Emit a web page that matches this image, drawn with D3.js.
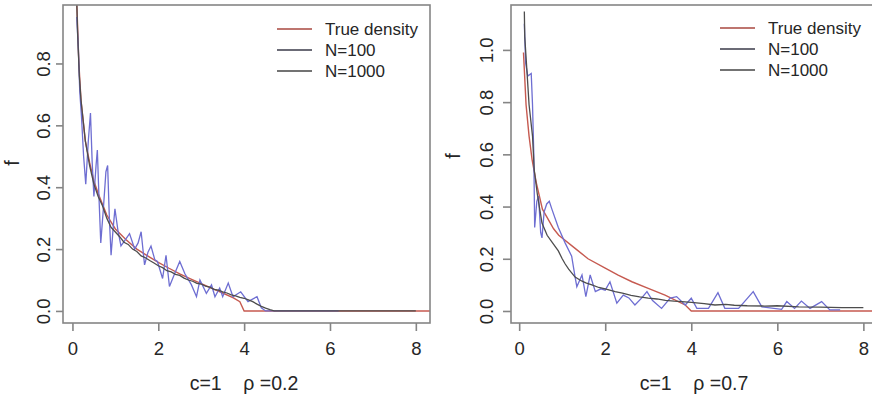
<!DOCTYPE html>
<html>
<head>
<meta charset="utf-8">
<script src="https://cdn.jsdelivr.net/npm/d3@7"></script>
<style>
  body { margin: 0; background: #fff; }
  svg { display: block; font-family: "Liberation Sans", Arial, sans-serif; }
  text { white-space: pre; }
</style>
</head>
<body>
<div id="chart"></div>
<script>
// --- data ------------------------------------------------------------
const legendLabels = ['True density', 'N=100', 'N=1000'];
const leftTicksX = [0, 2, 4, 6, 8];
const leftTicksY = [0, 0.2, 0.4, 0.6, 0.8];
const rightTicksX = [0, 2, 4, 6, 8];
const rightTicksY = [0, 0.2, 0.4, 0.6, 0.8, 1.0];
const leftTitle = 'c=1\u00a0\u00a0\u00a0 \u03c1 =0.2';
const rightTitle = 'c=1\u00a0\u00a0\u00a0 \u03c1 =0.7';

const leftTrue = [[0.1,1.0],[0.15,0.8],[0.2,0.68],[0.3,0.55],[0.4,0.48],[0.5,0.42],[0.6,0.38],[0.8,0.31],
  [1.0,0.265],[1.25,0.23],[1.5,0.2],[1.75,0.178],[2.0,0.157],[2.25,0.138],[2.5,0.12],[2.75,0.104],
  [3.0,0.088],[3.25,0.073],[3.5,0.058],[3.75,0.042],[3.9,0.03],[4.0,0.0],[8.4,0.0]];

const leftN100 = [[0.1,0.95],[0.14,0.84],[0.17,0.71],[0.21,0.63],[0.26,0.5],[0.31,0.41],[0.37,0.55],[0.42,0.64],
  [0.46,0.48],[0.5,0.37],[0.55,0.47],[0.58,0.52],[0.62,0.36],[0.66,0.22],[0.72,0.33],[0.78,0.45],[0.82,0.47],
  [0.86,0.3],[0.9,0.18],[0.95,0.27],[0.99,0.33],[1.06,0.26],[1.13,0.21],[1.23,0.23],[1.33,0.25],[1.45,0.2],
  [1.53,0.22],[1.6,0.256],[1.68,0.149],[1.76,0.19],[1.83,0.21],[1.92,0.165],[1.98,0.16],[2.1,0.105],[2.18,0.18],
  [2.26,0.079],[2.38,0.12],[2.5,0.16],[2.62,0.12],[2.77,0.085],[2.89,0.046],[2.97,0.1],[3.12,0.057],[3.24,0.084],
  [3.32,0.046],[3.43,0.074],[3.5,0.046],[3.63,0.09],[3.74,0.046],[3.92,0.062],[4.09,0.03],[4.3,0.046],[4.4,0.01],
  [4.5,0.0],[6.2,0.0]];

const leftN1000 = [[0.09,1.05],[0.12,0.9],[0.16,0.76],[0.2,0.68],[0.3,0.55],[0.4,0.47],[0.5,0.41],[0.6,0.37],
  [0.7,0.34],[0.8,0.3],[0.9,0.27],[1.0,0.255],[1.1,0.24],[1.2,0.222],[1.3,0.215],[1.4,0.2],[1.5,0.192],[1.6,0.178],
  [1.7,0.172],[1.8,0.163],[1.9,0.155],[2.0,0.146],[2.1,0.14],[2.2,0.13],[2.3,0.126],[2.4,0.118],[2.5,0.115],
  [2.6,0.106],[2.7,0.1],[2.8,0.096],[2.9,0.089],[3.0,0.087],[3.1,0.08],[3.2,0.077],[3.3,0.07],[3.4,0.067],
  [3.5,0.062],[3.6,0.058],[3.7,0.052],[3.8,0.049],[3.9,0.044],[4.0,0.041],[4.1,0.036],[4.2,0.03],[4.3,0.022],
  [4.4,0.015],[4.5,0.009],[4.6,0.004],[4.7,0.0],[8.0,0.0]];

const rightTrue = [[0.1,0.99],[0.16,0.79],[0.23,0.67],[0.3,0.58],[0.4,0.49],[0.54,0.39],[0.8,0.315],[0.92,0.29],
  [1.3,0.24],[1.6,0.2],[2.0,0.164],[2.3,0.137],[2.62,0.112],[3.0,0.087],[3.39,0.061],[3.65,0.04],[3.86,0.023],
  [4.0,0.0],[8.4,0.0]];

const rightN100 = [[0.12,1.1],[0.15,0.95],[0.2,0.9],[0.28,0.91],[0.31,0.79],[0.34,0.6],[0.36,0.32],[0.41,0.42],
  [0.45,0.44],[0.5,0.3],[0.53,0.28],[0.58,0.38],[0.64,0.41],[0.7,0.42],[0.76,0.39],[0.91,0.32],[1.07,0.26],
  [1.22,0.21],[1.3,0.13],[1.34,0.093],[1.46,0.138],[1.55,0.055],[1.65,0.138],[1.77,0.074],[1.9,0.085],[2.0,0.08],
  [2.11,0.112],[2.27,0.03],[2.42,0.061],[2.55,0.05],[2.69,0.023],[2.85,0.05],[2.97,0.074],[3.1,0.04],[3.31,0.01],
  [3.51,0.049],[3.66,0.055],[3.86,0.023],[4.0,0.049],[4.13,0.01],[4.4,0.01],[4.62,0.07],[4.78,0.01],[5.1,0.01],
  [5.44,0.074],[5.64,0.016],[6.1,0.006],[6.22,0.036],[6.4,0.01],[6.56,0.038],[6.76,0.01],[7.03,0.036],
  [7.22,0.004],[7.46,0.004]];

const rightN1000 = [[0.12,1.147],[0.13,1.05],[0.18,0.92],[0.23,0.79],[0.31,0.67],[0.35,0.54],[0.42,0.45],
  [0.53,0.337],[0.65,0.29],[0.78,0.26],[0.91,0.23],[1.0,0.2],[1.07,0.18],[1.15,0.16],[1.3,0.13],[1.45,0.115],
  [1.55,0.108],[1.69,0.1],[1.85,0.09],[2.0,0.085],[2.23,0.074],[2.4,0.068],[2.6,0.06],[2.8,0.054],[3.0,0.049],
  [3.2,0.046],[3.4,0.041],[3.6,0.038],[3.78,0.036],[4.0,0.033],[4.3,0.028],[4.55,0.023],[4.8,0.025],[5.0,0.022],
  [5.3,0.02],[5.71,0.019],[6.0,0.02],[6.5,0.016],[7.0,0.015],[7.5,0.013],[8.0,0.013]];

// --- drawing -----------------------------------------------------------
const W = 872, H = 398;
const colors = { truth: '#c65a50', n100: '#6e6ed2', n1000: '#4d4d4d' };
const legendColors = ['#a8473f', '#3a3a48', '#454545'];
const textColor = '#262626';
const FONT = '"Liberation Sans", Arial, sans-serif';

const svg = d3.select('#chart').append('svg').attr('width', W).attr('height', H);

function drawPanel(p) {
  const x = d3.scaleLinear().domain(p.xDomain).range([p.left, p.right]);
  const y = d3.scaleLinear().domain(p.yDomain).range([p.bottom, p.top]);
  const g = svg.append('g');

  g.append('clipPath').attr('id', p.id + '-clip')
    .append('rect').attr('x', p.left).attr('y', p.top)
    .attr('width', p.right - p.left).attr('height', p.bottom - p.top);

  const line = d3.line().x(d => x(d[0])).y(d => y(d[1]));
  const plot = g.append('g').attr('clip-path', `url(#${p.id}-clip)`);

  plot.append('path').datum(p.truth).attr('fill', 'none')
    .attr('stroke', colors.truth).attr('stroke-width', 1.4).attr('d', line);
  plot.append('path').datum(p.n100).attr('fill', 'none')
    .attr('stroke', colors.n100).attr('stroke-width', 1.3).attr('d', line);
  plot.append('path').datum(p.n1000).attr('fill', 'none')
    .attr('stroke', colors.n1000).attr('stroke-width', 1.3).attr('d', line);

  // box
  g.append('rect').attr('x', p.left).attr('y', p.top)
    .attr('width', p.right - p.left).attr('height', p.bottom - p.top)
    .attr('fill', 'none').attr('stroke', '#858585').attr('stroke-width', 1.6);

  // x axis
  g.append('g')
    .attr('transform', `translate(0,${p.bottom})`)
    .call(d3.axisBottom(x).tickValues(p.xTicks).tickSize(8).tickPadding(11).tickFormat(d3.format('d')))
    .call(a => a.select('.domain').remove())
    .call(a => a.selectAll('.tick line').attr('stroke', '#858585').attr('stroke-width', 1.6))
    .call(a => a.selectAll('.tick text').attr('fill', textColor)
      .style('font-size', '18.5px').style('font-family', FONT));

  // y axis, R style rotated labels
  g.append('g')
    .attr('transform', `translate(${p.left},0)`)
    .call(d3.axisLeft(y).tickValues(p.yTicks).tickSize(p.yTickLen).tickFormat(d3.format('.1f')))
    .call(a => a.select('.domain').remove())
    .call(a => a.selectAll('.tick line').attr('stroke', '#858585').attr('stroke-width', 1.6))
    .call(a => a.selectAll('.tick text')
      .attr('x', null)
      .attr('text-anchor', 'middle')
      .attr('transform', `translate(${-p.yLabelOff},0) rotate(-90)`)
      .attr('dy', '0.36em')
      .attr('fill', textColor)
      .style('font-size', '18.5px').style('font-family', FONT));

  g.append('text')
    .attr('transform', `translate(${p.left - p.fOff},${p.fY}) rotate(-90)`)
    .attr('text-anchor', 'middle').attr('dy', '0.36em')
    .attr('fill', textColor).style('font-size', '19.5px').text('f');

  g.append('text')
    .attr('x', p.titleX).attr('y', 390)
    .attr('text-anchor', 'middle')
    .attr('fill', textColor).style('font-size', '19.5px').text(p.title);

  // legend
  const leg = g.append('g');
  legendLabels.forEach((lab, i) => {
    const yy = p.legY + i * 21;
    leg.append('line').attr('x1', p.legX).attr('x2', p.legX + 35)
      .attr('y1', yy).attr('y2', yy)
      .attr('stroke', legendColors[i]).attr('stroke-width', 1.4);
    leg.append('text').attr('x', p.legX + 48).attr('y', yy).attr('dy', '0.36em')
      .attr('fill', textColor).style('font-size', '17px').text(lab);
  });
}

drawPanel({
  id: 'left', left: 63, right: 430, top: 5, bottom: 323,
  xDomain: [-0.22, 8.33], yDomain: [-0.039, 0.989],
  xTicks: leftTicksX, yTicks: leftTicksY, yTickLen: 7, yLabelOff: 20,
  fOff: 51, fY: 163, title: leftTitle, titleX: 244,
  legX: 277, legY: 29,
  truth: leftTrue, n100: leftN100, n1000: leftN1000
});

drawPanel({
  id: 'right', left: 511, right: 878, top: 5, bottom: 323,
  xDomain: [-0.19, 8.34], yDomain: [-0.046, 1.172],
  xTicks: rightTicksX, yTicks: rightTicksY, yTickLen: 8, yLabelOff: 25,
  fOff: 58, fY: 156, title: rightTitle, titleX: 694,
  legX: 720, legY: 28,
  truth: rightTrue, n100: rightN100, n1000: rightN1000
});
</script>
</body>
</html>
